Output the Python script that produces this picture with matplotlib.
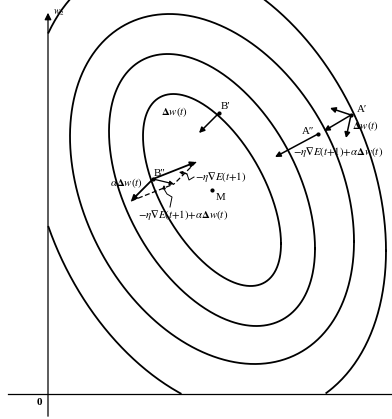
import numpy as np
import matplotlib.pyplot as plt

plt.rcParams['mathtext.fontset'] = 'stix'
plt.rcParams['font.family'] = ['Liberation Serif', 'DejaVu Serif']

# error surface E(w1, w2): level curves around the minimum M
M = (164, 204)
centre_x = [164, 164, 164, 160]
centre_y = [204, 204, 205, 207]
half_w = [69, 103, 142, 178]
half_h = [96, 136, 175, 228]
rho = [-0.56, -0.43, -0.30, -0.28]

# weight points and the steps drawn at them
B1, B1_step = (171, 281), (151, 261)
A1 = (303, 279)
A1_steps = [(282, 286), (276, 263), (298, 256)]
A2, A2_step = (270, 260), (227, 237)
B2 = (105, 215)
grad_B2 = (148, 232)        # tip of -eta*grad E(t+1)
mom_B2 = (83, 193)          # tip of alpha*dw(t)

fig = plt.figure(figsize=(3.92, 4.19), dpi=100)
ax = fig.add_axes([0, 0, 1, 1])
ax.set_xlim(-48, 344)
ax.set_ylim(-25, 394)
ax.axis('off')

# contours
t = np.linspace(0, 2 * np.pi, 500)
for cx, cy, a, b, r in zip(centre_x, centre_y, half_w, half_h, rho):
    x = cx + a * np.cos(t)
    y = cy + r * b * np.cos(t) + b * np.sqrt(1 - r ** 2) * np.sin(t)
    x = np.where((x < 0) | (y < 0), np.nan, x)
    ax.plot(x, y, color='black', lw=1.3)

# axes of the weight plane
ax.plot([-40, 344], [0, 0], color='black', lw=0.9)
ax.annotate('', xy=(0, 384), xytext=(0, -25),
            arrowprops=dict(arrowstyle='-|>', color='black', lw=0.9, mutation_scale=10))
ax.text(5, 381, r'$w_2$', fontsize=7, ha='left', va='center')
ax.text(-6, -8, '0', fontsize=8, fontweight='bold', ha='right', va='center')

arrow = dict(arrowstyle='-|>', color='black', lw=1.1, mutation_scale=8, shrinkA=0, shrinkB=0)


def step(p, q, **kw):
    props = dict(arrow)
    props.update(kw)
    ax.annotate('', xy=q, xytext=p, arrowprops=props)


fs = 7.8
dw = r'$\mathbf{\Delta}w(t)$'
full = r'${-}\eta\mathbf{\nabla}E(t{+}1){+}\alpha\mathbf{\Delta}w(t)$'

# B' : plain step
step(B1, B1_step)
ax.plot(*B1, 'o', color='black', ms=2)
ax.text(B1[0] + 2, B1[1] + 2, 'B′', fontsize=fs, ha='left', va='bottom')
ax.text(B1[0] - 31, B1[1] + 1, dw, fontsize=fs, ha='right', va='center')

# A' and A''
for q in A1_steps:
    step(A1, q)
ax.plot(*A1, 'o', color='black', ms=2)
ax.text(A1[0] + 6, A1[1] + 5, 'A′', fontsize=fs, ha='left', va='center')
ax.text(A1[0] + 1, A1[1] - 11, dw, fontsize=fs, ha='left', va='center')
step(A2, A2_step)
ax.plot(*A2, 'o', color='black', ms=2)
ax.text(A2[0] - 16, A2[1] + 3, 'A″', fontsize=fs, ha='left', va='center')
ax.text(A2[0] - 25, A2[1] - 18, full, fontsize=fs, ha='left', va='center')

# B'' : gradient step plus momentum term
res = (grad_B2[0] + mom_B2[0] - B2[0], grad_B2[1] + mom_B2[1] - B2[1])
step(B2, grad_B2, lw=1.3)
step(B2, mom_B2, lw=1.3)
step(B2, res, lw=0.9, mutation_scale=6)
ax.plot([mom_B2[0], res[0]], [mom_B2[1], res[1]], color='black', lw=0.9, ls=(0, (4, 2)))
ax.plot([grad_B2[0], res[0]], [grad_B2[1], res[1]], color='black', lw=0.9, ls=(0, (4, 2)))
ax.plot(*B2, 'o', color='black', ms=2)
ax.text(B2[0] + 1, B2[1] + 6, 'B″', fontsize=fs, ha='left', va='center')
ax.text(B2[0] - 10, B2[1] - 4, r'$\alpha\mathbf{\Delta}w(t)$', fontsize=fs, ha='right', va='center')
ax.text(grad_B2[0] - 1, grad_B2[1] - 15, r'${-}\eta\mathbf{\nabla}E(t{+}1)$', fontsize=fs,
        ha='left', va='center')
ax.text(135, 179, full, fontsize=fs, ha='center', va='center')

# curly leaders from the labels
lead1 = np.array([(146, 217), (141, 214), (139, 220), (134, 222)])
ax.plot(lead1[:, 0], lead1[:, 1], color='black', lw=0.7)
step(tuple(lead1[-2]), (131, 222), lw=0.7, mutation_scale=5)
lead2 = np.array([(122, 187), (124, 197), (119, 200), (116, 205)])
ax.plot(lead2[:, 0], lead2[:, 1], color='black', lw=0.7)
step(tuple(lead2[-1]), (116, 209), lw=0.7, mutation_scale=5)

# minimum
ax.plot(*M, 'o', color='black', ms=2)
ax.text(M[0] + 4, M[1] - 7, 'M', fontsize=fs, ha='left', va='center')

fig.savefig('out.png', dpi=100, facecolor='white')
